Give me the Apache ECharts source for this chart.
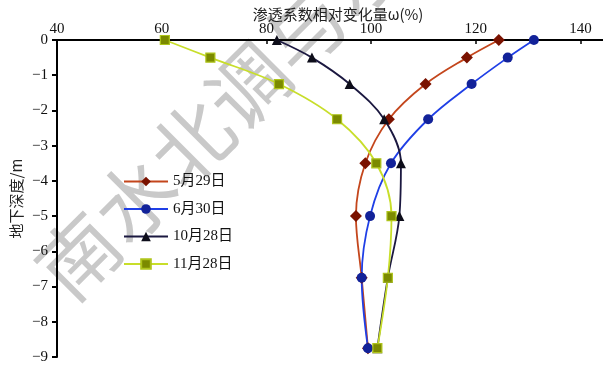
<!DOCTYPE html>
<html>
<head>
<meta charset="utf-8">
<title>渗透系数相对变化量</title>
<script src="https://cdn.jsdelivr.net/npm/echarts@6/dist/echarts.min.js"></script>
<style>
  html, body { margin: 0; padding: 0; background: #fff; }
  #chart { width: 603px; height: 369px; }
</style>
</head>
<body>
<div id="chart"></div>
<script>
// 地下深度 (m)
const depth = [0, -0.5, -1.25, -2.25, -3.5, -5, -6.75, -8.75]
// 渗透系数相对变化量 ω (%)
const may29 = [124.4, 118.3, 110.4, 103.4, 98.9, 97.1, 98.2, 99.4]
const jun30 = [131.1, 126.1, 119.2, 110.9, 103.8, 99.8, 98.2, 99.4]
const oct28 = [82.0, 88.7, 95.9, 102.5, 105.7, 105.4, 103.2, 101.2]
const nov28 = [60.6, 69.3, 82.4, 93.5, 101.0, 103.9, 103.2, 101.2]
const seriesNames = ['5月29日', '6月30日', '10月28日', '11月28日']
const xTicks = [40, 60, 80, 100, 120, 140]
const yTicks = [0, -1, -2, -3, -4, -5, -6, -7, -8, -9]

const serif = "'Liberation Serif', 'Noto Sans CJK SC', serif"

function pairs(vals) {
  return vals.map((v, i) => [v, depth[i]])
}

const chart = echarts.init(document.getElementById('chart'))

function lineSeries(name, vals, lineColor, symbol, markColor, size, border) {
  return {
    name: name,
    type: 'line',
    data: pairs(vals),
    smooth: 0.35,
    symbol: symbol,
    symbolSize: size,
    showSymbol: true,
    lineStyle: { color: lineColor, width: 1.8 },
    itemStyle: {
      color: markColor,
      borderColor: border || markColor,
      borderWidth: border ? 1.2 : 0
    }
  }
}

chart.setOption({
  animation: false,
  backgroundColor: '#fff',
  textStyle: { fontFamily: serif },
  grid: {
    left: 57,
    right: 0,
    top: 40,
    bottom: 12,
    containLabel: false,
    outerBoundsMode: 'none'
  },
  // watermark
  graphic: [
    {
      type: 'text',
      x: 50,
      y: 284,
      rotation: Math.PI / 4,
      z: -10,
      silent: true,
      style: {
        text: '南水北调与水利科技',
        fontSize: 80,
        fontFamily: "'Noto Sans CJK SC', sans-serif",
        fill: 'rgba(165,165,165,0.6)',
        textAlign: 'left',
        textVerticalAlign: 'middle'
      }
    }
  ],
  legend: {
    data: seriesNames,
    orient: 'vertical',
    left: 118,
    top: 169,
    itemWidth: 44,
    itemHeight: 12,
    itemGap: 12.5,
    textStyle: { fontSize: 15, color: '#111', fontFamily: serif }
  },
  xAxis: {
    type: 'value',
    position: 'top',
    min: 40,
    max: 144.3,
    name: '渗透系数相对变化量ω(%)',
    nameLocation: 'middle',
    nameGap: 18,
    nameMoveOverlap: false,
    nameTextStyle: {
      fontSize: 15,
      color: '#222',
      padding: [0, 0, 0, 16],
      fontFamily: "'Noto Sans CJK SC', " + serif
    },
    splitLine: { show: false },
    axisLine: { onZero: false, lineStyle: { color: '#000', width: 2 } },
    axisTick: {
      inside: true,
      length: 4,
      customValues: xTicks,
      lineStyle: { color: '#000', width: 1.5 }
    },
    axisLabel: {
      customValues: xTicks,
      margin: 3,
      fontSize: 15,
      color: '#111',
      fontFamily: serif
    }
  },
  yAxis: {
    type: 'value',
    min: -9,
    max: 0,
    interval: 1,
    name: '地下深度/m',
    nameLocation: 'middle',
    nameGap: 33,
    nameMoveOverlap: false,
    nameTextStyle: {
      fontSize: 15,
      color: '#222',
      fontFamily: "'Noto Sans CJK SC', " + serif
    },
    splitLine: { show: false },
    axisLine: { onZero: false, lineStyle: { color: '#000', width: 2 } },
    axisTick: {
      length: 5,
      customValues: yTicks,
      lineStyle: { color: '#000', width: 2 }
    },
    axisLabel: {
      customValues: yTicks,
      margin: 9,
      fontSize: 15,
      color: '#111',
      fontFamily: serif,
      formatter: v => String(v).replace('-', '\u2212')
    }
  },
  series: [
    lineSeries(seriesNames[0], may29, '#c4461c', 'diamond', '#7a1200', 12),
    lineSeries(seriesNames[1], jun30, '#1f3fe6', 'circle', '#122299', 10),
    lineSeries(seriesNames[2], oct28, '#1b1840', 'triangle', '#0d0d1a', 10),
    lineSeries(seriesNames[3], nov28, '#c8de2a', 'rect', '#7b8a00', 9, '#aec41a')
  ]
})
</script>
</body>
</html>
